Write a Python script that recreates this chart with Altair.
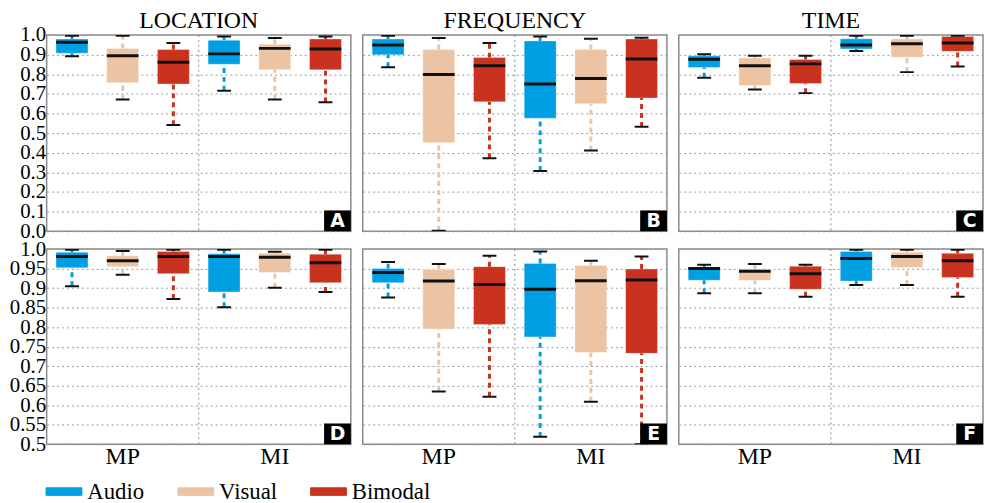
import altair as alt
import pandas as pd

groups = ["MP", "MI"]
modalities = ["Audio", "Visual", "Bimodal"]
colors = ["#009ee2", "#ecc4a4", "#c8321e"]
titles = ["LOCATION", "FREQUENCY", "TIME"]

# order of six boxes: MP-Audio, MP-Visual, MP-Bimodal, MI-Audio, MI-Visual, MI-Bimodal
A_lo  = [0.892, 0.671, 0.541, 0.716, 0.671, 0.657]
A_q1  = [0.907, 0.757, 0.750, 0.851, 0.823, 0.823]
A_med = [0.963, 0.895, 0.861, 0.904, 0.932, 0.929]
A_q3  = [0.980, 0.932, 0.926, 0.973, 0.953, 0.980]
A_hi  = [0.997, 0.997, 0.959, 0.993, 0.985, 0.993]

B_lo  = [0.836, 0.003, 0.372, 0.307, 0.412, 0.532]
B_q1  = [0.899, 0.451, 0.660, 0.576, 0.650, 0.679]
B_med = [0.949, 0.799, 0.843, 0.750, 0.779, 0.878]
B_q3  = [0.980, 0.926, 0.885, 0.970, 0.926, 0.980]
B_hi  = [0.997, 0.985, 0.959, 0.993, 0.981, 0.986]

C_lo  = [0.782, 0.723, 0.704, 0.919, 0.811, 0.840]
C_q1  = [0.834, 0.743, 0.753, 0.929, 0.887, 0.917]
C_med = [0.877, 0.843, 0.853, 0.949, 0.956, 0.959]
C_q3  = [0.894, 0.883, 0.875, 0.981, 0.980, 0.993]
C_hi  = [0.902, 0.894, 0.895, 0.997, 0.997, 0.997]

D_lo  = [0.905, 0.934, 0.872, 0.851, 0.901, 0.890]
D_q1  = [0.952, 0.955, 0.937, 0.890, 0.940, 0.914]
D_med = [0.981, 0.970, 0.981, 0.981, 0.979, 0.965]
D_q3  = [0.992, 0.983, 0.994, 0.988, 0.989, 0.987]
D_hi  = [0.998, 0.995, 0.998, 0.998, 0.993, 0.998]

E_lo  = [0.876, 0.635, 0.622, 0.519, 0.609, 0.500]
E_q1  = [0.914, 0.795, 0.807, 0.775, 0.735, 0.733]
E_med = [0.940, 0.918, 0.909, 0.897, 0.919, 0.921]
E_q3  = [0.950, 0.948, 0.955, 0.963, 0.958, 0.949]
E_hi  = [0.967, 0.962, 0.983, 0.994, 0.970, 0.981]

F_lo  = [0.887, 0.887, 0.878, 0.908, 0.908, 0.878]
F_q1  = [0.920, 0.920, 0.897, 0.918, 0.953, 0.927]
F_med = [0.950, 0.943, 0.937, 0.976, 0.981, 0.970]
F_q3  = [0.954, 0.948, 0.956, 0.994, 0.992, 0.989]
F_hi  = [0.960, 0.962, 0.960, 0.998, 0.998, 0.998]

top_ticks = [0.0, 0.1, 0.2, 0.3, 0.4, 0.5, 0.6, 0.7, 0.8, 0.9, 1.0]
bottom_ticks = [0.5, 0.55, 0.6, 0.65, 0.7, 0.75, 0.8, 0.85, 0.9, 0.95, 1.0]

panel_stats = {
    "A": (A_lo, A_q1, A_med, A_q3, A_hi),
    "B": (B_lo, B_q1, B_med, B_q3, B_hi),
    "C": (C_lo, C_q1, C_med, C_q3, C_hi),
    "D": (D_lo, D_q1, D_med, D_q3, D_hi),
    "E": (E_lo, E_q1, E_med, E_q3, E_hi),
    "F": (F_lo, F_q1, F_med, F_q3, F_hi),
}

FONT = "Liberation Serif"
W = 307
H_TOP = 198
H_BOT = 197
BOX_W = 32
CAP_W = 14


def make_df(letter):
    lo, q1, med, q3, hi = panel_stats[letter]
    rows = []
    i = 0
    for g in groups:
        for m in modalities:
            rows.append(dict(group=g, modality=m, lo=lo[i], q1=q1[i], med=med[i], q3=q3[i], hi=hi[i]))
            i += 1
    return pd.DataFrame(rows)


# wide flat legend swatch: path wider than the unit box, label pushed right with labelOffset
legend = alt.Legend(title=None, orient="none", legendX=6, legendY=449,
                    direction="horizontal", columns=3,
                    symbolType="M-4.75,-1L4.75,-1L4.75,1L-4.75,1Z",
                    symbolSize=58, symbolStrokeColor="#333",
                    symbolStrokeWidth=1, symbolOpacity=1,
                    labelFont=FONT, labelFontSize=23, labelColor="black",
                    labelOffset=12, columnPadding=31)


def panel(letter, col, row):
    df = make_df(letter)
    top = row == 0
    ydom = [0.0, 1.0] if top else [0.5, 1.0]
    yvals = top_ticks if top else bottom_ticks
    H = H_TOP if top else H_BOT
    common = dict(values=yvals, title=None, ticks=False, domain=False, grid=True,
                  gridDash=[2, 3], gridColor="#9a9a9a", gridWidth=1)
    if col == 0:
        yaxis = alt.Axis(labelFont=FONT, labelFontSize=21, labelColor="black",
                         labelPadding=1, labelOverlap=False, labelFlush=False,
                         minExtent=37, maxExtent=37,
                         labelExpr="datum.value == 1 ? '1.0' : (datum.value == 0 ? '0.0' : format(datum.value, '.2~f'))",
                         **common)
    else:
        yaxis = alt.Axis(labels=False, **common)
    yscale = alt.Scale(domain=ydom, nice=False, zero=False)

    def Y(f):
        return alt.Y(f, scale=yscale, axis=yaxis)

    if top:
        xaxis = None
    else:
        xaxis = alt.Axis(title=None, labelAngle=0, labelFont=FONT, labelFontSize=24,
                         labelColor="black", ticks=False, domain=False, grid=False, labelPadding=0)
    xscale = alt.Scale(domain=groups, paddingInner=0, paddingOuter=0)
    xoff = alt.XOffset("modality:N", scale=alt.Scale(domain=modalities, paddingInner=0.37, paddingOuter=0.185))
    x = alt.X("group:N", scale=xscale, axis=xaxis)

    base = alt.Chart(df)
    stroke = alt.Stroke("modality:N", scale=alt.Scale(domain=modalities, range=colors), legend=None)

    divider = alt.Chart(pd.DataFrame({"group": ["MI"]})).mark_rule(
        strokeDash=[2, 3], color="#8a8a8a", strokeWidth=1
    ).encode(x=alt.X("group:N", scale=xscale, axis=xaxis, bandPosition=0))

    w_low = base.mark_rule(strokeDash=[5, 4], strokeWidth=3, clip=True).encode(
        x=x, xOffset=xoff, y=Y("lo:Q"), y2="q1:Q", stroke=stroke)
    w_high = base.mark_rule(strokeDash=[5, 4], strokeWidth=3, clip=True).encode(
        x=x, xOffset=xoff, y=Y("q3:Q"), y2="hi:Q", stroke=stroke)
    cap_lo = base.mark_tick(color="#111", thickness=2, size=CAP_W, opacity=1, clip=True).encode(
        x=x, xOffset=xoff, y=Y("lo:Q"))
    cap_hi = base.mark_tick(color="#111", thickness=2, size=CAP_W, opacity=1, clip=True).encode(
        x=x, xOffset=xoff, y=Y("hi:Q"))
    boxes = base.mark_bar(stroke="white", strokeOpacity=0.35, strokeWidth=1, opacity=1, clip=True).encode(
        x=x, xOffset=xoff, y=Y("q1:Q"), y2="q3:Q",
        fill=alt.Fill("modality:N", scale=alt.Scale(domain=modalities, range=colors), legend=legend))
    medians = base.mark_tick(color="#111", thickness=3, size=BOX_W, opacity=1, clip=True).encode(
        x=x, xOffset=xoff, y=Y("med:Q"))

    badge_df = pd.DataFrame({"label": [letter]})
    badge = alt.Chart(badge_df).mark_rect(color="black").encode(
        x=alt.value(W - 27), x2=alt.value(W), y=alt.value(H - 21), y2=alt.value(H))
    badge_txt = alt.Chart(badge_df).mark_text(
        font="DejaVu Sans", fontWeight="bold", fontSize=19, color="white",
        align="center", baseline="middle").encode(
        text="label:N", x=alt.value(W - 13.5), y=alt.value(H - 10))

    layers = [boxes, divider, w_low, w_high, medians, cap_lo, cap_hi, badge, badge_txt]
    if top:
        title_df = pd.DataFrame({"t": [titles[col]]})
        layers.append(alt.Chart(title_df).mark_text(
            font=FONT, fontSize=24, color="black", align="center", baseline="alphabetic"
        ).encode(text="t:N", x=alt.value(W / 2), y=alt.value(-7)))
    return alt.layer(*layers).properties(width=W, height=H)


columns = [
    alt.vconcat(panel(t, i, 0), panel(b, i, 1), spacing=18, bounds="flush")
    for i, (t, b) in enumerate([("A", "D"), ("B", "E"), ("C", "F")])
]

chart = alt.hconcat(*columns, spacing=10).properties(
    padding={"left": 0, "top": -2, "right": 0, "bottom": 0}
).configure_view(
    stroke="#8a8a8a", strokeWidth=1.5
)

chart.save("out.html", embed_options={"renderer": "svg", "actions": False})
